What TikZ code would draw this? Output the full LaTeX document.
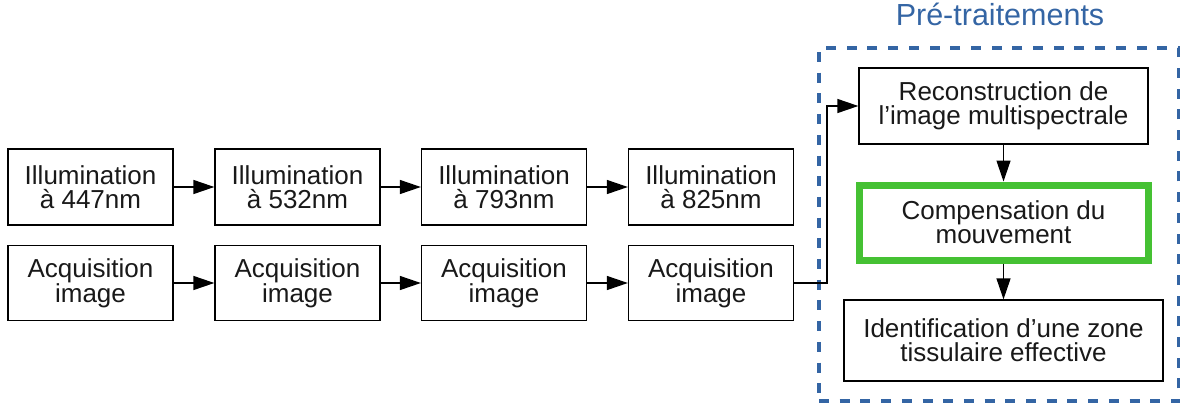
\documentclass[tikz,border=0pt]{standalone}
\usepackage{fontspec}
\setmainfont{Liberation Sans}
\usetikzlibrary{arrows.meta}
\definecolor{preblue}{HTML}{3465A4}
\definecolor{boxgreen}{HTML}{45C133}
\tikzset{
  stepbox/.style={draw=black, line width=1.3pt, fill=white, align=center, inner sep=0pt,
    font=\fontsize{26}{24}\selectfont, text=black!90},
  arr/.style={draw=black, line width=1.3pt, -{Triangle[length=21pt,width=14pt]}},
}
\begin{document}
\begin{tikzpicture}[x=1pt,y=-1pt]
\useasboundingbox (0,0) rectangle (1180,410);
% group box
\node[draw=preblue, line width=4pt, dash pattern=on 10pt off 10.7pt, minimum width=360pt, minimum height=352.7pt, inner sep=0pt] (pre) at (999,224.65) {};
\node[text=preblue, font=\fontsize{30.5}{30}\selectfont, anchor=base] (title) at (1000,25) {Pré-traitements};
% top row
\node[stepbox, minimum width=165pt, minimum height=76pt] (i1) at (90.5,187) {Illumination\\à 447nm};
\node[stepbox, minimum width=165pt, minimum height=76pt] (i2) at (297.5,187) {Illumination\\à 532nm};
\node[stepbox, minimum width=165pt, minimum height=76pt] (i3) at (504,187) {Illumination\\à 793nm};
\node[stepbox, minimum width=165pt, minimum height=76pt] (i4) at (711,187) {Illumination\\à 825nm};
% bottom row
\node[stepbox, minimum width=165pt, minimum height=75pt] (a1) at (90.5,283) {Acquisition\\image};
\node[stepbox, minimum width=165pt, minimum height=75pt] (a2) at (297.5,283) {Acquisition\\image};
\node[stepbox, minimum width=165pt, minimum height=75pt] (a3) at (504,283) {Acquisition\\image};
\node[stepbox, minimum width=165pt, minimum height=75pt] (a4) at (711,283) {Acquisition\\image};
% right column
\node[stepbox, minimum width=289pt, minimum height=76pt] (rec) at (1003.5,106) {Reconstruction de\\l’image multispectrale};
\node[stepbox, draw=boxgreen, line width=7pt, minimum width=289pt, minimum height=75pt] (comp) at (1003.5,222.5) {Compensation du\\mouvement};
\node[stepbox, minimum width=319pt, minimum height=81pt] (ident) at (1003.5,340.5) {Identification d’une zone\\tissulaire effective};
% connectors
\draw[arr] (i1) -- (i2);
\draw[arr] (i2) -- (i3);
\draw[arr] (i3) -- (i4);
\draw[arr] (a1) -- (a2);
\draw[arr] (a2) -- (a3);
\draw[arr] (a3) -- (a4);
\coordinate (bend) at (827,283);
\draw[arr] (a4.east) -- (bend) |- (rec.west);
\draw[arr] (rec) -- (comp);
\draw[arr] (comp) -- (ident);
\end{tikzpicture}
\end{document}
